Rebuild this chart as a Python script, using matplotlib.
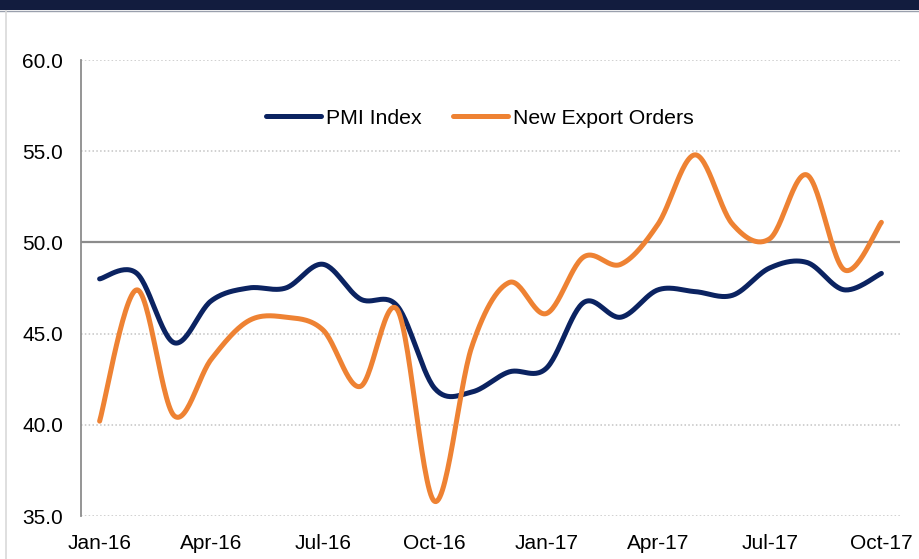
"""
PMI index vs new export orders, monthly Jan-16 to Oct-17, with smoothed
lines in the style of a spreadsheet chart.
"""

import matplotlib
matplotlib.use("Agg")
import matplotlib.pyplot as plt
from matplotlib.lines import Line2D
from matplotlib.patches import Rectangle
import numpy as np

months = ["Jan-16", "Feb-16", "Mar-16", "Apr-16", "May-16", "Jun-16",
          "Jul-16", "Aug-16", "Sep-16", "Oct-16", "Nov-16", "Dec-16",
          "Jan-17", "Feb-17", "Mar-17", "Apr-17", "May-17", "Jun-17",
          "Jul-17", "Aug-17", "Sep-17", "Oct-17"]

pmi_index = [48.0, 48.3, 44.5, 46.8, 47.5, 47.5, 48.8, 46.9, 46.5, 42.0,
             41.8, 42.9, 43.1, 46.7, 45.9, 47.4, 47.3, 47.1, 48.6, 48.9,
             47.4, 48.3]

new_export_orders = [40.2, 47.4, 40.5, 43.6, 45.7, 45.9, 45.2, 42.1, 46.3,
                     35.8, 44.3, 47.8, 46.1, 49.2, 48.8, 51.0, 54.8, 51.0,
                     50.2, 53.7, 48.5, 51.1]

NAVY = "#0b2361"
ORANGE = "#ee8233"


def smooth(y, steps=30):
    # Bezier smoothing like Excel's "smoothed line": control points at 1/6
    # of the neighbour difference (Catmull-Rom).
    y = np.asarray(y, dtype=float)
    x = np.arange(len(y), dtype=float)
    px = np.concatenate([[x[0]], x, [x[-1]]])
    py = np.concatenate([[y[0]], y, [y[-1]]])
    t = np.linspace(0, 1, steps)[:-1]
    xs, ys = [], []
    for i in range(1, len(px) - 2):
        p0 = np.array([px[i], py[i]])
        p3 = np.array([px[i + 1], py[i + 1]])
        c1 = p0 + (p3 - np.array([px[i - 1], py[i - 1]])) / 6
        c2 = p3 - (np.array([px[i + 2], py[i + 2]]) - p0) / 6
        b = ((1 - t) ** 3)[:, None] * p0 + (3 * (1 - t) ** 2 * t)[:, None] * c1 \
            + (3 * (1 - t) * t ** 2)[:, None] * c2 + (t ** 3)[:, None] * p3
        xs.append(b[:, 0])
        ys.append(b[:, 1])
    xs.append([x[-1]])
    ys.append([y[-1]])
    return np.concatenate(xs), np.concatenate(ys)


plt.rcParams["font.family"] = ["Liberation Sans", "DejaVu Sans"]

fig = plt.figure(figsize=(9.2, 5.59), dpi=100)

# header band and frame line
fig.patches.append(Rectangle((0, 1 - 10 / 559), 1, 10 / 559, transform=fig.transFigure,
                             facecolor="#121c3e", edgecolor="none"))
fig.lines.append(Line2D([0, 1], [1 - 11 / 559] * 2, transform=fig.transFigure,
                        color="#9aa0ad", lw=1))
fig.lines.append(Line2D([6 / 920] * 2, [0, 1 - 11 / 559], transform=fig.transFigure,
                        color="#d9d9d9", lw=1.2))

ax = fig.add_axes([81 / 920, 43 / 559, 819 / 920, 456 / 559])

x = np.arange(len(months))
for series, color, label in [(pmi_index, NAVY, "PMI Index"),
                             (new_export_orders, ORANGE, "New Export Orders")]:
    sx, sy = smooth(series)
    ax.plot(sx, sy, color=color, lw=3.6, solid_capstyle="round", label=label, zorder=3)

ax.set_xlim(-0.5, len(months) - 0.5)
ax.set_ylim(35, 60)
ax.set_yticks(np.arange(35, 61, 5))
ax.set_yticklabels([f"{v:.1f}" for v in np.arange(35, 61, 5)])
ax.set_xticks(x[::3])
ax.set_xticklabels(months[::3])

for v in [35, 40, 45, 55, 60]:
    ax.axhline(v, color="#c4c4c4", lw=1.1, ls=(0, (1, 1.5)), zorder=1)
ax.axhline(50, color="#8c8c8c", lw=1.6, zorder=2)

for side in ["top", "right", "bottom"]:
    ax.spines[side].set_visible(False)
ax.spines["left"].set_color("#8c8c8c")
ax.spines["left"].set_linewidth(1.3)
ax.tick_params(axis="both", length=0, labelsize=15, colors="black")
ax.tick_params(axis="y", pad=13)
ax.tick_params(axis="x", pad=13)

ax.legend(loc="center", bbox_to_anchor=(0.487, 0.872), ncol=2, frameon=False,
          fontsize=15.3, handlelength=2.6, handletextpad=0.2, columnspacing=1.5)

fig.savefig("out.png", dpi=100)
